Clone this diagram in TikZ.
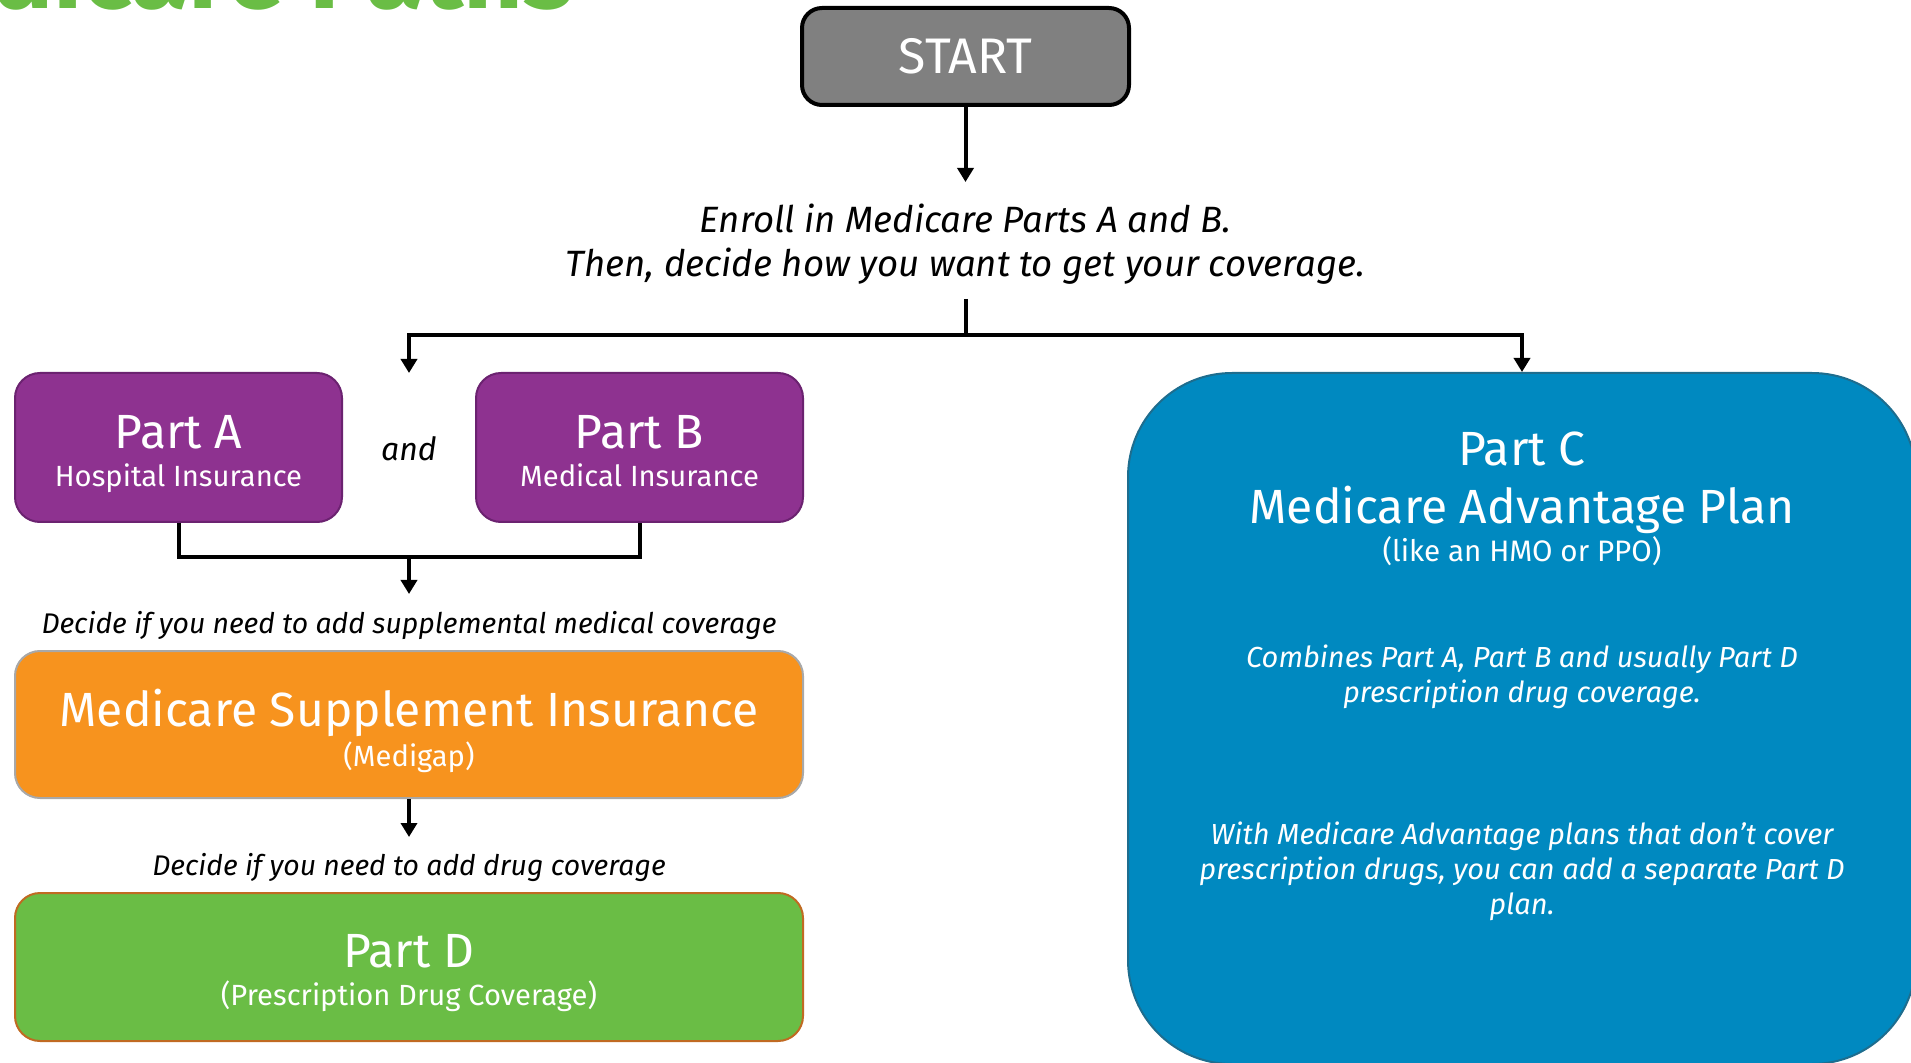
\documentclass[tikz,border=0pt]{standalone}
\usepackage{fontspec}
\setmainfont{Fira Sans}
\usetikzlibrary{arrows.meta}

\definecolor{startgray}{HTML}{808080}
\definecolor{partpurple}{HTML}{8E3290}
\definecolor{purpleedge}{HTML}{6B2270}
\definecolor{gaporange}{HTML}{F7931E}
\definecolor{gapedge}{HTML}{A8A8A8}
\definecolor{druggreen}{HTML}{6ABD45}
\definecolor{drugedge}{HTML}{C06A22}
\definecolor{advblue}{HTML}{0089C0}
\definecolor{advedge}{HTML}{1E6D8E}
\definecolor{titlegreen}{HTML}{6ABD45}

\newcommand{\fsz}[2]{\fontsize{#1}{#2}\selectfont}
\newcommand{\boxhead}[1]{{\fsz{24}{28}#1}}

\tikzset{
	box/.style={draw, line width=1pt, rounded corners=12.5pt, inner sep=0pt, align=center, text=white},
	boxtext/.style={text=white, align=center, yshift=-3.3pt, text depth=3.6pt, font=\fsz{14.6}{19}},
	arr/.style={line width=2pt, -{Triangle[width=8pt,length=7pt]}},
	link/.style={line width=2pt},
	ask/.style={anchor=base, font=\itshape\fsz{14.2}{17.5}},
	ctext/.style={text=white, align=center},
}

\begin{document}
\begin{tikzpicture}[x=0.5pt, y=-0.5pt]
	\useasboundingbox (0,0) rectangle (1911,1063);

	% title, cut off at the top
	\node[anchor=base east, inner sep=0pt, text=titlegreen, font=\bfseries\fsz{52}{60}] (title) at (574,9) {Medicare Paths};

	\node[box, fill=startgray, draw=black, line width=2pt, rounded corners=10pt, minimum width=163.5pt, minimum height=48.5pt, font=\fsz{25}{28}] (start) at (965.5,56.5) {START};
	\node[align=center, font=\itshape\fsz{18.3}{22}] (enroll) at (965.5,244.5) {Enroll in Medicare Parts A and B.\\Then, decide how you want to get your coverage.};

	% original medicare
	\node[box, fill=partpurple, draw=purpleedge, minimum width=163.5pt, minimum height=74.5pt,
		label={[boxtext]center:{\boxhead{Part A}\\Hospital Insurance}}] (partA) at (178.5,447.5) {};
	\node[anchor=base, font=\itshape\fsz{16}{19}] (andtxt) at (409,461) {and};
	\node[box, fill=partpurple, draw=purpleedge, minimum width=163.5pt, minimum height=74.5pt,
		label={[boxtext]center:{\boxhead{Part B}\\Medical Insurance}}] (partB) at (639.5,447.5) {};

	\node[ask] (supq) at (409,633) {Decide if you need to add supplemental medical coverage};
	\node[box, fill=gaporange, draw=gapedge, minimum width=394pt, minimum height=73.5pt,
		label={[boxtext, font=\fsz{14.6}{20}]center:{\boxhead{Medicare Supplement Insurance}\\(Medigap)}}] (medigap) at (409,724.5) {};

	\node[ask] (drugq) at (409,875) {Decide if you need to add drug coverage};
	\node[box, fill=druggreen, draw=drugedge, minimum width=394pt, minimum height=74pt,
		label={[boxtext]center:{\boxhead{Part D}\\(Prescription Drug Coverage)}}] (partD) at (409,967) {};

	% medicare advantage
	\node[box, fill=advblue, draw=advedge, rounded corners=52pt, minimum width=394pt, minimum height=345.5pt] (partC) at (1522,718.5) {};
	\node[ctext, anchor=base, font=\fsz{24}{28}] (ctitle) at (1522,465.5) {Part C};
	\node[ctext, anchor=base, font=\fsz{24}{28}] (cname) at (1522,523.5) {Medicare Advantage Plan};
	\node[ctext, anchor=base, font=\fsz{14.8}{17}] (clike) at (1522,561) {(like an HMO or PPO)};
	\node[ctext, font=\itshape\fsz{14.5}{17.5}] (ccombine) at (1522,677) {Combines Part A, Part B and usually Part D\\prescription drug coverage.};
	\node[ctext, font=\itshape\fsz{14.5}{17.5}] (cwith) at (1522,871.5) {With Medicare Advantage plans that don't cover\\prescription drugs, you can add a separate Part D\\plan.};

	\coordinate (enrollin) at (965.5,182);
	\coordinate (split) at (965.5,299);
	\coordinate (fork) at (965.5,335);
	\coordinate (abin) at (409,373);
	\coordinate (abjoin) at (409,557);
	\coordinate (supin) at (409,594);
	\coordinate (drugin) at (409,837);

	\draw[arr] (start) -- (enrollin);
	\draw[arr] (split) -- (fork) -| (abin);
	\draw[arr] (fork) -| (partC.north);
	\draw[link] (partA.south) |- (abjoin) -| (partB.south);
	\draw[arr] (abjoin) -- (supin);
	\draw[arr] (medigap) -- (drugin);
\end{tikzpicture}
\end{document}
